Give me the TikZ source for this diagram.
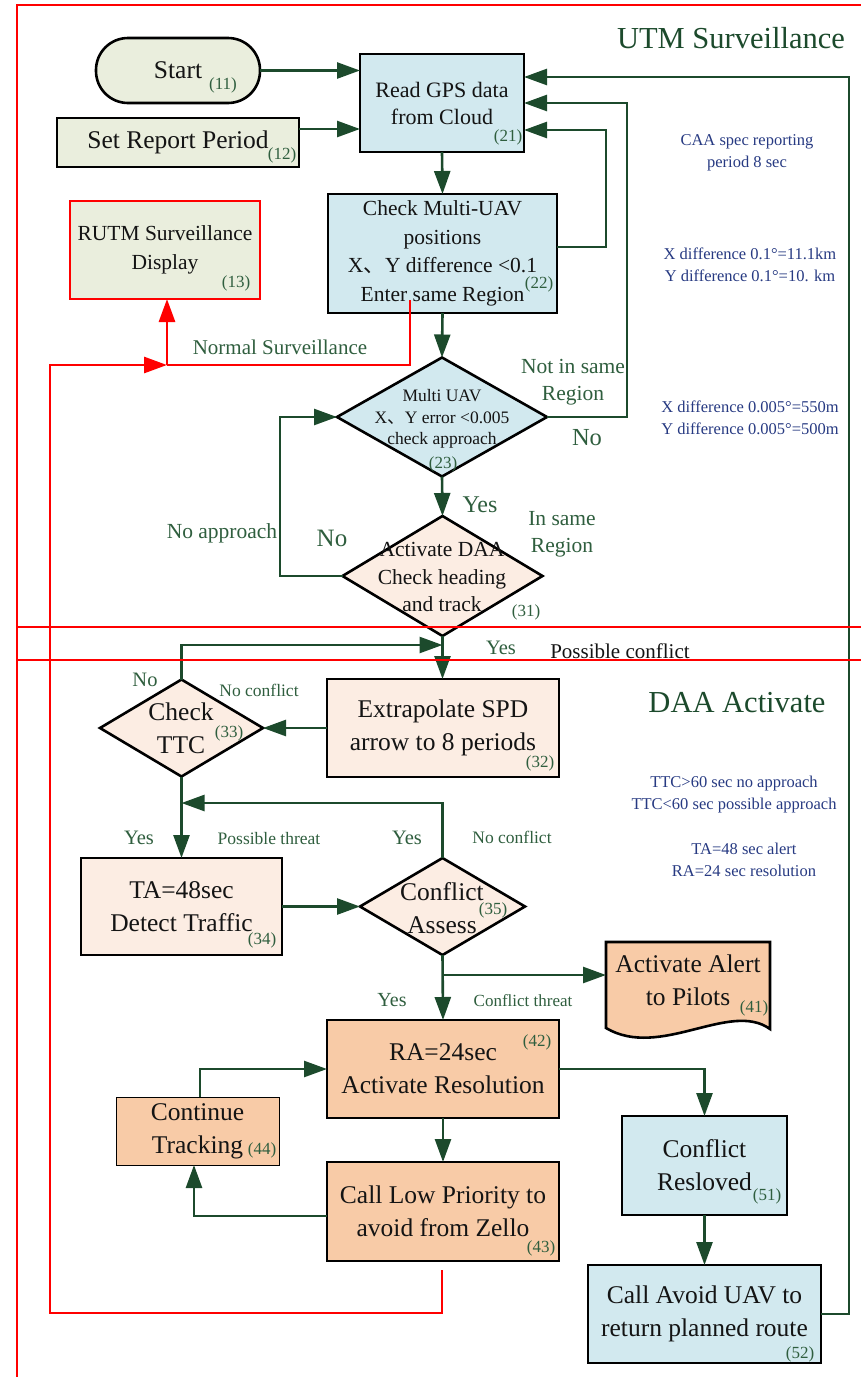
\documentclass[tikz,border=0pt]{standalone}
\usepackage{fontspec}
\setmainfont{Liberation Serif}
\newfontfamily\cjkf{Noto Sans CJK SC}
\usetikzlibrary{arrows.meta,shapes.geometric}
\definecolor{lg}{HTML}{1C4A2C}
\definecolor{txtg}{HTML}{2F5E3E}
\definecolor{txtk}{HTML}{141414}
\definecolor{navy}{HTML}{273A82}
\definecolor{fgreen}{HTML}{EAEEDD}
\definecolor{fblue}{HTML}{D2E9EF}
\definecolor{fpeach}{HTML}{FCEDE3}
\definecolor{forange}{HTML}{F8CBA7}
\newcommand\fsz[2]{\fontsize{#1}{#2}\selectfont}
\newcommand\dun{{\cjkf 、}}
\begin{document}
\begin{tikzpicture}[x=1pt,y=-1pt,
  every node/.style={inner sep=0pt,outer sep=0pt},
  box/.style={draw=black,line width=2.6pt,rectangle,align=center,text=txtk,font=\fsz{25.5}{33}},
  dia/.style={draw=black,line width=2.6pt,diamond},
  dtext/.style={text=txtk,align=center},
  conn/.style={draw=lg,line width=2.6pt},
  arr/.style={conn,-{Triangle[length=23pt,width=16pt]}},
  rline/.style={draw=red,line width=2.8pt},
  rarr/.style={rline,-{Triangle[length=23pt,width=16pt]}},
  numl/.style={text=txtg,font=\fsz{17}{17}},
  lbl/.style={text=txtg,align=center},
  note/.style={text=navy,align=center,font=\fsz{16.5}{22}},
  ttl/.style={text=lg,font=\fsz{30.5}{36}},
]
\useasboundingbox (0,0) rectangle (861,1377);

% ---------- shapes ----------
\node[box,fill=fgreen,rounded corners=32pt,minimum width=164pt,minimum height=65pt] (n11) at (178,70.5) {\raisebox{-2pt}{Start}};
\node[box,fill=fgreen,minimum width=242pt,minimum height=49pt] (n12) at (178,142.5) {Set Report Period};
\node[box,fill=fgreen,draw=red,minimum width=190pt,minimum height=98pt,font=\fsz{21.5}{29}] (n13) at (165,250) {RUTM Surveillance\\Display};
\node[box,fill=fblue,minimum width=164pt,minimum height=98pt,font=\fsz{22}{27}] (n21) at (442,103) {Read GPS data\\from Cloud};
\node[box,fill=fblue,minimum width=229pt,minimum height=119pt,font=\fsz{21.5}{28.5}] (n22) at (442.5,253.5) {Check Multi-UAV\\positions\\X\dun Y difference <0.1\\Enter same Region};
\node[dia,fill=fblue,minimum width=210pt,minimum height=119pt] (n23) at (442,417) {};
\node[dtext,font=\fsz{17.5}{21.5}] (t23) at (442,419) {Multi UAV\\X\dun Y error <0.005\\check approach};
\node[dia,fill=fpeach,minimum width=200pt,minimum height=120pt] (n31) at (442.5,576) {};
\node[dtext,font=\fsz{21.5}{27.5}] (t31) at (442,577) {Activate DAA\\Check heading\\and track};
\node[box,fill=fpeach,minimum width=232pt,minimum height=98pt] (n32) at (443,728) {Extrapolate SPD\\arrow to 8 periods};
\node[dia,fill=fpeach,minimum width=163pt,minimum height=97pt] (n33) at (181.5,728) {};
\node[dtext,font=\fsz{25.5}{33}] (t33) at (181,728.5) {Check\\TTC};
\node[box,fill=fpeach,minimum width=201pt,minimum height=97pt] (n34) at (181.5,906.5) {TA=48sec\\Detect Traffic};
\node[dia,fill=fpeach,minimum width=165pt,minimum height=97pt] (n35) at (442.5,906.5) {};
\node[dtext,font=\fsz{25.5}{33}] (t35) at (442,908) {Conflict\\Assess};
\path[fill=forange,draw=black,line width=2.6pt] (606,942) -- (770,942) -- (770,1029) .. controls (730,1000) and (660,1060) .. (606,1028) -- cycle;
\node[dtext,font=\fsz{25.5}{33},minimum width=164pt] (n41) at (688,980) {Activate Alert\\to Pilots};
\node[box,fill=forange,minimum width=232pt,minimum height=98pt] (n42) at (443,1069) {RA=24sec\\Activate Resolution};
\node[box,fill=forange,minimum width=232pt,minimum height=99pt] (n43) at (443,1211.5) {Call Low Priority to\\avoid from Zello};
\node[box,fill=forange,line width=1pt,minimum width=163pt,minimum height=68pt] (n44) at (197.5,1131) {Continue\\Tracking};
\node[box,fill=fblue,minimum width=165pt,minimum height=99pt] (n51) at (704.5,1165.5) {Conflict\\Resloved};
\node[box,fill=fblue,minimum width=233pt,minimum height=98pt] (n52) at (704.5,1314) {Call Avoid UAV to\\return planned route};

% ---------- numbers ----------
\node[numl] (l11) at (223,85) {(11)};
\node[numl] (l12) at (282,155) {(12)};
\node[numl] (l13) at (236,283) {(13)};
\node[numl] (l21) at (508,137) {(21)};
\node[numl] (l22) at (539,284) {(22)};
\node[numl] (l23) at (443,464) {(23)};
\node[numl] (l31) at (526,612) {(31)};
\node[numl] (l32) at (540,763) {(32)};
\node[numl] (l33) at (229,733) {(33)};
\node[numl] (l34) at (262,940) {(34)};
\node[numl] (l35) at (493,910) {(35)};
\node[numl] (l41) at (754,1008) {(41)};
\node[numl] (l42) at (537,1042) {(42)};
\node[numl] (l43) at (541,1248) {(43)};
\node[numl] (l44) at (262,1150) {(44)};
\node[numl] (l51) at (767,1196) {(51)};
\node[numl] (l52) at (800,1354) {(52)};

% ---------- green connectors ----------
\coordinate (c12) at (299,129);
\coordinate (c22r) at (557,247);
\coordinate (c21a) at (524,130);
\coordinate (c21b) at (524,103);
\coordinate (c21c) at (524,77);
\coordinate (c645) at (442.5,645);
\coordinate (c803) at (181.5,803);
\coordinate (c975) at (442.5,975);
\coordinate (c43l) at (327,1216);
\coordinate (c44b) at (194,1165);
\coordinate (c44t) at (200,1097);
\draw[arr] (n11.east) -- (n11.east -| n21.west);
\draw[arr] (c12) -- (c12 -| n21.west);
\draw[arr] (n21.south) -- (n22.north);
\draw[arr] (c22r) -- (606,247) -- (606,130) -- (c21a);
\draw[arr] (n23.east) -- (627,417) -- (627,103) -- (c21b);
\draw[arr] (n52.east) -- (849,1314) -- (849,77) -- (c21c);
\draw[arr] (n22.south) -- (n23.north);
\draw[arr] (n23.south) -- (n31.north);
\draw[arr] (n31.west) -- (280,576) -- (280,417) -- (n23.west);
\draw[arr] (n31.south) -- (n31.south |- n32.north);
\draw[arr] (n33.north) -- (181.5,645) -- (c645);
\draw[arr] (n32.west) -- (n33.east);
\draw[arr] (n33.south) -- (n34.north);
\draw[arr] (n35.north) -- (442.5,803) -- (c803);
\draw[arr] (n34.east) -- (n35.west);
\draw[arr] (n35.south) -- (n42.north);
\draw[arr] (c975) -- (c975 -| n41.west);
\draw[arr] (n42.east) -| (n51.north);
\draw[arr] (n51.south) -- (n52.north);
\draw[arr] (n42.south) -- (n43.north);
\draw[arr] (c43l) -- (194,1216) -- (c44b);
\draw[arr] (c44t) -- (200,1069) -- (n42.west);

% ---------- labels ----------
\node[lbl,font=\fsz{21}{27}] (lns) at (280,347) {Normal Surveillance};
\node[lbl,font=\fsz{21.5}{27}] (lnap) at (222,533) {No approach};
\node[lbl,font=\fsz{25}{30}] (lno1) at (332,538) {No};
\node[lbl,font=\fsz{21.5}{27}] (lnis) at (573,382) {Not in same\\Region};
\node[lbl,font=\fsz{24.5}{30}] (lno2) at (587,438) {No};
\node[lbl,font=\fsz{24}{30}] (lyes1) at (480,505) {Yes};
\node[lbl,font=\fsz{21.5}{27}] (lins) at (562,534) {In same\\Region};
\node[lbl,font=\fsz{20.5}{25}] (lyes2) at (501,648) {Yes};
\node[text=txtk,font=\fsz{21}{25}] (lpc) at (620,651) {Possible conflict};
\node[lbl,font=\fsz{20.5}{25}] (lno3) at (145,680) {No};
\node[lbl,font=\fsz{17.5}{22}] (lnc1) at (259,690) {No conflict};
\node[lbl,font=\fsz{20.5}{25}] (lyes3) at (139,838) {Yes};
\node[lbl,font=\fsz{17.5}{22}] (lpt) at (269,839) {Possible threat};
\node[lbl,font=\fsz{20.5}{25}] (lyes4) at (407,838) {Yes};
\node[lbl,font=\fsz{17.5}{22}] (lnc2) at (512,837) {No conflict};
\node[lbl,font=\fsz{20}{25}] (lyes5) at (392,1000) {Yes};
\node[lbl,font=\fsz{17}{22}] (lct) at (523,1001) {Conflict threat};

% ---------- titles and notes ----------
\node[ttl] (tutm) at (731,38) {UTM Surveillance};
\node[ttl] (tdaa) at (737,703) {DAA Activate};
\node[note] (nt1) at (747,153) {CAA spec reporting\\period 8 sec};
\node[note] (nt2) at (750,265) {X difference 0.1°=11.1km\\Y difference 0.1°=10. km};
\node[note] (nt3) at (750,418) {X difference 0.005°=550m\\Y difference 0.005°=500m};
\node[note] (nt4) at (734,795) {TTC>60 sec no approach\\TTC<60 sec possible approach};
\node[note] (nt5) at (744,860) {TA=48 sec alert\\RA=24 sec resolution};

% ---------- red lines ----------
\coordinate (c22red) at (410,300);
\coordinate (cjoin) at (167,365);
\coordinate (c43red) at (442,1270);
\draw[rline] (c22red) -- (410,365) -- (cjoin);
\draw[rarr] (cjoin) -- (cjoin |- n13.south);
\draw[rarr] (c43red) -- (442,1313) -- (50,1313) -- (50,365) -- (cjoin);
\draw[rline] (861,5) -- (17,5) -- (17,1377);
\draw[rline] (17,627) -- (861,627);
\draw[rline] (17,660) -- (861,660);
\end{tikzpicture}
\end{document}
